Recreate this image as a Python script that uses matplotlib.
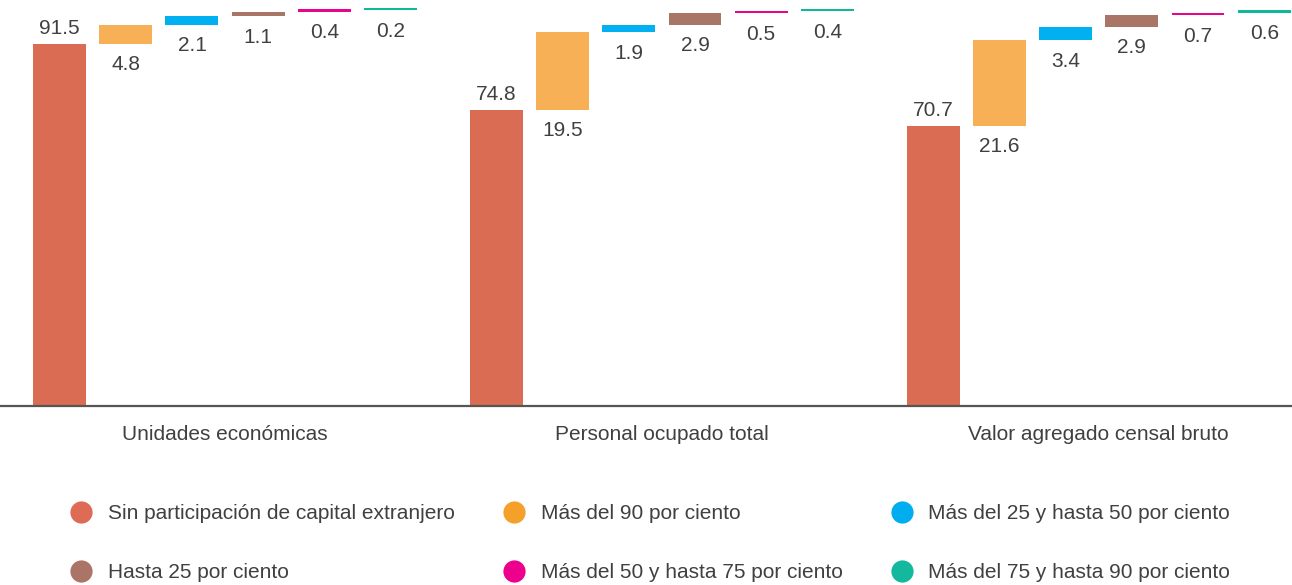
import numpy as np
import matplotlib.pyplot as plt
from matplotlib.lines import Line2D

plt.rcParams['font.family'] = ['Liberation Sans', 'DejaVu Sans']

categories = ["Unidades económicas", "Personal ocupado total", "Valor agregado censal bruto"]
series = ["Sin participación de capital extranjero", "Más del 90 por ciento",
          "Más del 25 y hasta 50 por ciento", "Hasta 25 por ciento",
          "Más del 50 y hasta 75 por ciento", "Más del 75 y hasta 90 por ciento"]
values = [
    [91.5, 4.8, 2.1, 1.1, 0.4, 0.2],
    [74.8, 19.5, 1.9, 2.9, 0.5, 0.4],
    [70.7, 21.6, 3.4, 2.9, 0.7, 0.6],
]
bar_colors = ["#DA6C53", "#F7B055", "#00B0F0", "#A97566", "#E8048C", "#10B89A"]
legend_colors = ["#DD6B55", "#F5A02A", "#00AEEF", "#AA7466", "#EC008C", "#14B89C"]

txt = "#404040"
group_step = 6.6
min_h = 0.7  # keep tiny segments visible
fs = 15

fig = plt.figure(figsize=(12.92, 5.85), dpi=100)
ax = fig.add_axes([0, 179 / 585, 1, 406 / 585])

for g, vals in enumerate(values):
    base = 0.0
    for i, v in enumerate(vals):
        x = g * group_step + i
        ax.bar(x, max(v, min_h), bottom=base, width=0.8, color=bar_colors[i], linewidth=0)
        if i == 0:
            ax.annotate(f"{v:.1f}", (x, base + v), xytext=(0, 7), textcoords="offset points",
                        ha="center", va="baseline", fontsize=fs, color=txt)
        else:
            ax.annotate(f"{v:.1f}", (x, base), xytext=(0, -19), textcoords="offset points",
                        ha="center", va="baseline", fontsize=fs, color=txt)
        base += v

ax.set_xlim(-0.9, 18.62)
ax.set_ylim(0, 102.5)
for s in ["top", "right", "left"]:
    ax.spines[s].set_visible(False)
ax.spines["bottom"].set_color("#555555")
ax.spines["bottom"].set_linewidth(1.6)
ax.set_yticks([])
ax.set_xticks([g * group_step + 2.5 for g in range(len(categories))])
ax.set_xticklabels(categories, fontsize=fs, color=txt)
ax.tick_params(axis="x", length=0, pad=14)

# legend laid out row by row, matplotlib fills columns first
order = [0, 3, 1, 4, 2, 5]
handles = [Line2D([], [], marker="o", linestyle="", markersize=16,
                  markerfacecolor=legend_colors[k], markeredgewidth=0) for k in order]
labels = [series[k] for k in order]
fig.legend(handles, labels, ncol=3, loc="upper left", bbox_to_anchor=(0.055, 0.138),
           frameon=False, fontsize=fs, labelcolor=txt, handletextpad=0.77,
           columnspacing=2.35, labelspacing=1.9, handlelength=1.0, borderaxespad=0,
           borderpad=0)

fig.savefig("out.png", dpi=100)
